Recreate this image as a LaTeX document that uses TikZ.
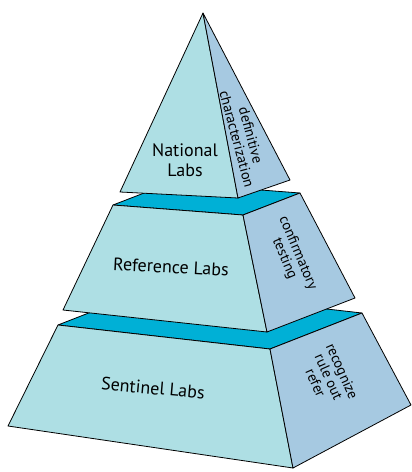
\documentclass[tikz,border=0pt]{standalone}
\usepackage{fontspec}
\setmainfont{PT Sans}
\definecolor{frontblue}{RGB}{174,223,228}
\definecolor{sideblue}{RGB}{166,201,225}
\definecolor{topcyan}{RGB}{0,176,214}
\tikzset{
    front/.style={draw=black, line width=0.8pt, line join=round, fill=frontblue},
    side/.style={draw=black, line width=0.8pt, line join=round, fill=sideblue},
    topface/.style={draw=black, line width=0.8pt, line join=round, fill=topcyan},
    mainlabel/.style={font=\fontsize{18}{20}\selectfont, align=center, inner sep=0pt},
    sidelabel/.style={font=\fontsize{14.5}{14.5}\selectfont, align=center, inner sep=0pt}
}
\begin{document}
\begin{tikzpicture}[x=1pt, y=-1pt]
            \useasboundingbox (0,0) rectangle (412,472);
            % Bottom tier
            \draw[topface] (58,325) % front left
                -- (270,349) % front right
                -- (362,313) % back right
                -- (150,289) % back left
                -- cycle;
            \draw[front] (58,325) -- (270,349) -- (293,468) -- (8,426) -- cycle;
            \draw[side] (270,349) -- (362,313) -- (411,405) -- (293,468) -- cycle;
            \node[mainlabel, rotate=-5] (sentinel) at (153,388) {Sentinel Labs};
            \node[sidelabel, rotate=-66] (sentineltask) at (329,377) {recognize\\rule out\\refer};
            % Middle tier
            \draw[topface] (113,205) % front left
                -- (243,215) % front right
                -- (300,193) % back right
                -- (170,183) % back left
                -- cycle;
            \draw[front] (113,205) -- (243,215) -- (267,332) -- (63,310) -- cycle;
            \draw[side] (243,215) -- (300,193) -- (355,298) -- (267,332) -- cycle;
            \node[mainlabel, rotate=-3] (reference) at (171,267) {Reference Labs};
            \node[sidelabel, rotate=-67] (referencetask) at (291,256) {confirmatory\\testing};
            % Top tier
            \draw[front] (203,13) % apex
                -- (238,198) % front right
                -- (120,192) % front left
                -- cycle;
            \draw[side] (203,13) -- (290,180) -- (238,198) -- cycle;
            \node[mainlabel] (national) at (185,160) {National\\Labs};
            \node[sidelabel, rotate=-75] (nationaltask) at (244,137) {definitive\\characterization};
        \end{tikzpicture}
\end{document}
